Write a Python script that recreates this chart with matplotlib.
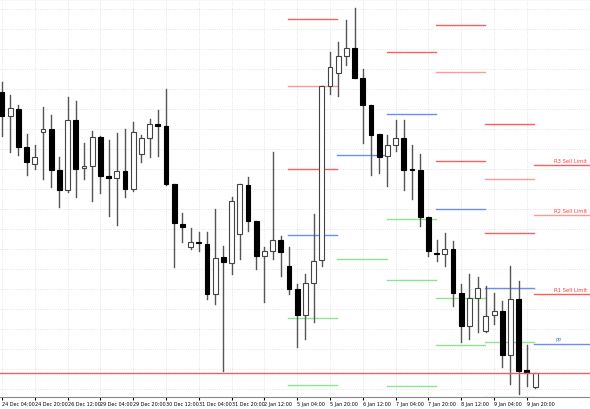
import matplotlib
matplotlib.use('Agg')
import matplotlib.pyplot as plt
import numpy as np

# candles, 4h bars
opens = [307, 283, 290, 252, 235, 267, 270, 229, 209, 279, 231, 233, 262, 223, 221, 228, 210, 245, 261, 275,
         273, 215, 175, 152, 157, 155, 105, 142, 136, 165, 214, 178, 143, 148, 159, 133, 110, 84, 116, 139,
         313, 326, 343, 351, 321, 294, 265, 243, 254, 261, 230, 229, 182, 146, 145, 150, 106, 73, 101, 68,
         84, 88, 44, 100, 29, 12]
highs = [317, 304, 294, 265, 254, 292, 284, 242, 302, 298, 256, 268, 263, 259, 266, 270, 277, 264, 280, 289,
         310, 215, 186, 171, 167, 167, 190, 153, 202, 215, 222, 178, 152, 247, 163, 152, 115, 125, 185, 313,
         347, 357, 379, 391, 330, 294, 265, 264, 279, 279, 254, 245, 182, 159, 166, 158, 115, 125, 122, 113,
         106, 98, 133, 118, 54, 26]
lows = [263, 247, 244, 224, 230, 220, 212, 192, 207, 202, 220, 198, 206, 183, 174, 202, 208, 237, 242, 243,
        214, 132, 157, 150, 148, 100, 95, 28, 125, 140, 168, 130, 97, 140, 123, 105, 52, 60, 77, 133,
        305, 303, 334, 321, 256, 224, 226, 213, 248, 209, 200, 173, 143, 138, 133, 93, 57, 60, 67, 67,
        75, 32, 15, 5, 13, 11]
closes = [283, 291, 252, 237, 242, 270, 229, 209, 279, 230, 233, 262, 223, 221, 228, 210, 267, 261, 275, 273,
          215, 176, 172, 157, 156, 105, 141, 137, 198, 215, 178, 143, 148, 159, 147, 110, 84, 116, 138, 313,
          332, 343, 351, 321, 294, 264, 242, 254, 261, 229, 229, 182, 148, 145, 150, 106, 73, 101, 111, 83,
          88, 44, 100, 28, 26, 26]

tick_labels = ['24 Dec 04:00', '24 Dec 20:00', '26 Dec 12:00', '29 Dec 04:00', '29 Dec 20:00', '30 Dec 12:00',
               '31 Dec 04:00', '31 Dec 20:00', '2 Jan 12:00', '5 Jan 04:00', '5 Jan 20:00', '6 Jan 12:00',
               '7 Jan 04:00', '7 Jan 20:00', '8 Jan 12:00', '9 Jan 04:00', '9 Jan 20:00']

# daily pivot segments
seg_start = [34.9, 40.9, 46.9, 52.9, 58.9, 64.9]
seg_red = [[380, 313, 230], [], [347], [374, 327, 238], [275, 220, 166], [234, 184, 105]]
seg_blue = [164, 244, 285, 190, 111, 55]
seg_green = [[81, 14], [140], [180, 119, 13], [101, 54], [57, 2], []]
last_labels = ['R3 Sell Limit', 'R2 Sell Limit', 'R1 Sell Limit']
bid_line = 26

fig = plt.figure(figsize=(5.9, 4.1), dpi=100)
ax = fig.add_axes([0, 12 / 410, 1, 398 / 410])
ax.set_axisbelow(True)
xmax = 71.7
ax.set_xlim(-0.24, xmax)
ax.set_ylim(2, 400)

for i in range(len(opens)):
    o, h, l, c = opens[i], highs[i], lows[i], closes[i]
    ax.plot([i, i], [l, h], color='#555555', lw=1, zorder=2)
    bottom = min(o, c)
    height = max(abs(c - o), 1)
    if c < o:
        ax.bar(i, height, 0.6, bottom=bottom, color='black', edgecolor='black', lw=0.8, zorder=3)
    else:
        ax.bar(i, height, 0.6, bottom=bottom, color='white', edgecolor='#444444', lw=0.8, zorder=3)

for k, s in enumerate(seg_start):
    e = s + 6 if k < len(seg_start) - 1 else xmax
    for j, v in enumerate(seg_red[k]):
        col = '#ff9a9a' if j % 2 == 1 else '#ff5c5c'
        ax.plot([s, e], [v, v], color=col, lw=1, zorder=1)
    ax.plot([s, e], [seg_blue[k]] * 2, color='#6a8ff0', lw=1, zorder=1)
    for v in seg_green[k]:
        ax.plot([s, e], [v, v], color='#8fe38f', lw=1, zorder=1)

for lab, v in zip(last_labels, seg_red[-1]):
    ax.text(xmax - 0.4, v + 2, lab, color='#ff4040', fontsize=3.8, ha='right', va='bottom')
ax.text(67.5, seg_blue[-1] + 2, 'PP', color='#5b7fe0', fontsize=3.8, ha='left', va='bottom')

ax.axhline(bid_line, color='#f06060', lw=1, zorder=4)

ax.set_xticks(np.arange(0, 4 * len(tick_labels), 4))
ax.set_xticklabels(tick_labels, fontsize=3.5, ha='left')
ax.tick_params(axis='x', length=2, pad=1)
ax.set_yticks(np.arange(10, 400, 20))
ax.tick_params(axis='y', left=False, labelleft=False)
ax.grid(True, color='#dddddd', ls=':', lw=0.6)
for sp in ['left', 'right']:
    ax.spines[sp].set_visible(False)
ax.spines['top'].set_color('#888888')
ax.spines['bottom'].set_color('#888888')

fig.savefig('out.png', dpi=100)
